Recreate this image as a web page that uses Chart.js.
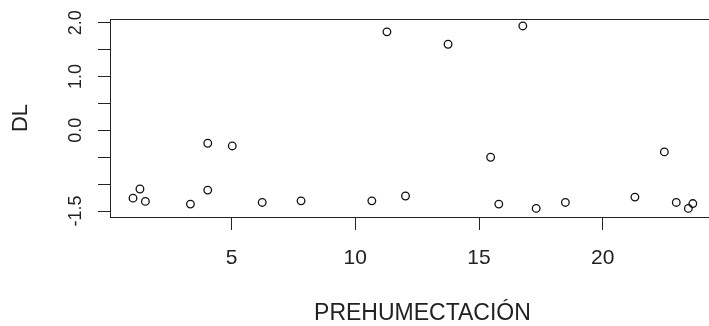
<!DOCTYPE html>
<html>
<head>
<meta charset="utf-8">
<script src="https://cdn.jsdelivr.net/npm/chart.js@4"></script>
<style>
  html, body { margin: 0; padding: 0; background: #fff; overflow: hidden; }
  #wrap { width: 740px; height: 326px; }
</style>
</head>
<body>
<div id="wrap"><canvas id="scatterChart" width="740" height="326"></canvas></div>
<script>
// valores
const prehumectacion = [1.02, 1.30, 1.52, 3.34, 4.04, 4.04, 5.03, 6.24, 7.81, 10.67, 11.28, 12.03,
  13.75, 15.47, 15.80, 16.77, 17.31, 18.49, 21.30, 22.49, 22.97, 23.46, 23.64];
const dl = [-1.26, -1.09, -1.32, -1.37, -0.24, -1.11, -0.29, -1.34, -1.31, -1.31, 1.83, -1.22,
  1.60, -0.50, -1.37, 1.94, -1.45, -1.34, -1.24, -0.40, -1.34, -1.45, -1.36];

const xTicks = [5, 10, 15, 20];
const yTicks = [-1.5, -1, -0.5, 0, 0.5, 1, 1.5, 2];
const yTickLabels = ["-1.5", "", "", "0.0", "", "1.0", "", "2.0"];

const FONT = "'Liberation Sans', Arial, sans-serif";
const INK = "#222";

// marco de la grafica y etiquetas del eje y (giradas como en R)
const framePlugin = {
  id: "frame",
  afterDraw(chart) {
    const { ctx, chartArea } = chart;
    const y = chart.scales.y;
    ctx.save();
    ctx.strokeStyle = INK;
    ctx.lineWidth = 1;
    ctx.strokeRect(Math.round(chartArea.left) + 0.5, Math.round(chartArea.top) + 0.5,
      Math.round(chartArea.right - chartArea.left), Math.round(chartArea.bottom - chartArea.top));
    ctx.fillStyle = INK;
    ctx.font = "18px " + FONT;
    ctx.textAlign = "center";
    ctx.textBaseline = "alphabetic";
    yTicks.forEach((v, i) => {
      if (!yTickLabels[i]) return;
      const py = y.getPixelForValue(v);
      ctx.save();
      ctx.translate(81, py);
      ctx.rotate(-Math.PI / 2);
      ctx.fillText(yTickLabels[i], 0, 0);
      ctx.restore();
    });
    ctx.restore();
  },
};

const ctx = document.getElementById("scatterChart");
new Chart(ctx, {
  type: "scatter",
  data: {
    datasets: [
      {
        label: "DL",
        data: prehumectacion.map((x, i) => ({ x: x, y: dl[i] })),
        pointStyle: "circle",
        pointRadius: 3.8,
        pointHoverRadius: 3.8,
        borderWidth: 1.3,
        borderColor: "#111",
        backgroundColor: "rgba(0,0,0,0)",
      },
    ],
  },
  options: {
    responsive: false,
    animation: false,
    events: [],
    layout: { padding: { top: 19, left: 0, right: 0, bottom: 0 } },
    plugins: { legend: { display: false }, tooltip: { enabled: false } },
    scales: {
      x: {
        type: "linear",
        min: 0.09,
        max: 25.34,
        afterBuildTicks: (scale) => { scale.ticks = xTicks.map((v) => ({ value: v })); },
        afterFit: (scale) => { scale.height = 109; },
        grid: { drawOnChartArea: false, drawTicks: true, tickLength: 13, tickColor: INK, lineWidth: 1 },
        border: { display: true, color: INK, width: 1 },
        ticks: { color: INK, padding: 16, font: { family: FONT, size: 21 }, autoSkip: false, maxRotation: 0 },
        title: {
          display: true,
          text: "PREHUMECTACIÓN",
          color: INK,
          font: { family: FONT, size: 23, lineHeight: 1 },
          padding: { top: 0, bottom: 1 },
        },
      },
      y: {
        type: "linear",
        min: -1.61,
        max: 2.069,
        afterBuildTicks: (scale) => { scale.ticks = yTicks.map((v) => ({ value: v })); },
        afterFit: (scale) => { scale.width = 110; },
        grid: { drawOnChartArea: false, drawTicks: true, tickLength: 12, tickColor: INK, lineWidth: 1 },
        border: { display: true, color: INK, width: 1 },
        ticks: { display: false },
        title: {
          display: true,
          text: "DL",
          color: INK,
          font: { family: FONT, size: 22, lineHeight: 1 },
          padding: { top: 10, bottom: 0 },
        },
      },
    },
  },
  plugins: [framePlugin],
});
</script>
</body>
</html>
